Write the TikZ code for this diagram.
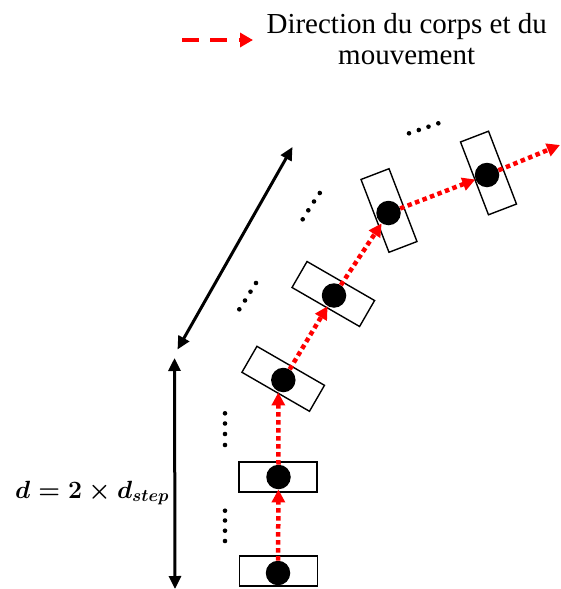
\documentclass[tikz,border=0pt]{standalone}
\usepackage{fontspec}
\setmainfont{Liberation Serif}
\usetikzlibrary{arrows.meta}
\begin{document}
\begin{tikzpicture}[x=1pt,y=-1pt,
  stepbox/.style={draw, line width=1.4pt, minimum width=78pt, minimum height=30pt, inner sep=0pt},
  ball/.style={circle, fill=black, minimum size=24.5pt, inner sep=0pt},
  redarrow/.style={draw=red, line width=4.5pt, dash pattern=on 4.5pt off 3.5pt,
    -{Triangle[length=13pt,width=13pt,fill=red]}},
  legendarrow/.style={draw=red, line width=4.5pt, dash pattern=on 16.7pt off 11.7pt,
    -{Triangle[length=13pt,width=14pt,fill=red]}},
  blackarrow/.style={line width=3pt, {Triangle[length=13pt,width=12pt]}-{Triangle[length=13pt,width=12pt]}},
  dot/.style={fill=black}
]
\useasboundingbox (0,0) rectangle (560,589);

% legend
\coordinate (l1) at (182,40);
\coordinate (l2) at (253,40);
\draw[legendarrow] (l1) -- (l2);
\node[anchor=base, align=center, font=\fontsize{29}{31}\selectfont, inner sep=0pt] (legend) at (406.7,64)
  {Direction du corps et du\\mouvement};

% boxes
\node[stepbox] (box1) at (278.5,571) {};
\node[stepbox] (box2) at (278,477) {};
\node[stepbox, rotate=-30] (box3) at (283.2,378.8) {};
\node[stepbox, rotate=-30] (box4) at (333.3,294) {};
\node[stepbox, rotate=-69] (box5) at (389,210.5) {};
\node[stepbox, rotate=-69] (box6) at (488.5,173) {};

% balls
\node[ball] (b1) at (278,573) {};
\node[ball] (b2) at (278.5,477) {};
\node[ball] (b3) at (283.3,380) {};
\node[ball] (b4) at (334,295.5) {};
\node[ball] (b5) at (388.5,213) {};
\node[ball] (b6) at (487,175) {};
\coordinate (out) at (560,145);

% red movement arrows
\draw[redarrow] (b1) -- (b2);
\draw[redarrow] (b2.north) -- ([xshift=-5pt]b3.south);
\draw[redarrow] (b3) -- (b4);
\draw[redarrow] (b4) -- (b5);
\draw[redarrow] (b5) -- (b6);
\draw[redarrow] (b6) -- (out);

% black distance arrows
\coordinate (v1) at (174.5,358);
\coordinate (v2) at (175,589);
\draw[blackarrow] (v1) -- (v2);
\coordinate (d1) at (177.5,349.5);
\coordinate (d2) at (292.5,147);
\draw[blackarrow] (d1) -- (d2);

\node[anchor=base west, inner sep=0pt, font={\fontsize{25}{27}\selectfont\mathversion{bold}}] (dlabel) at (15,498)
  {$d = 2 \times d_{step}$};

% ellipsis dots
\foreach \x/\y in {225/510.7, 225/520.5, 225/530.7, 225/541,
                   225/413.3, 225/423.5, 225/434, 225/445,
                   239.3/309.3, 245/300.5, 250.5/291.7, 256/283,
                   302.7/219.3, 308.3/210.3, 314/201.5, 319.8/193,
                   409/133.3, 418.8/130, 428.5/126.7, 438.3/123.3}
  \fill[dot] (\x,\y) circle (2.3pt);
\end{tikzpicture}
\end{document}
